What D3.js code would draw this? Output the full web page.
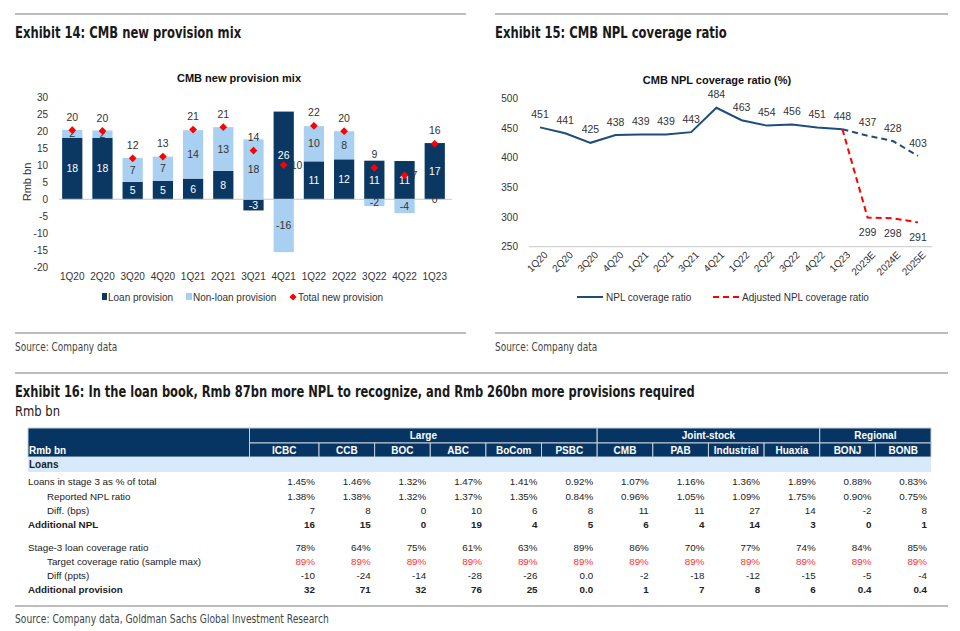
<!DOCTYPE html>
<html><head><meta charset="utf-8">
<script src="https://cdn.jsdelivr.net/npm/d3@7"></script>
<style>
body{margin:0;background:#fff;}
svg text{font-family:"Liberation Sans",Arial,sans-serif;}
svg text.cond{font-family:"Liberation Sans Narrow","Arial Narrow","DejaVu Sans Condensed",sans-serif;}
</style></head><body>
<svg id="c" width="960" height="631"></svg>
<script>
// ---------- DATA ----------
const quarters = ["1Q20","2Q20","3Q20","4Q20","1Q21","2Q21","3Q21","4Q21","1Q22","2Q22","3Q22","4Q22","1Q23"];
const loanProvision = [18.2,18.1,5.1,5.4,6.1,8.4,-3.3,25.9,11.2,11.8,11.4,11.3,16.6];
const nonLoanProvision = [2.3,2.2,7.1,7.2,14.3,12.9,17.7,-15.6,10.4,8.3,-2.0,-4.1,-0.2];
const totalProvision = [20.4,20.2,12.1,12.6,20.6,21.3,14.4,10.1,21.7,20.1,9.3,7.1,16.4];
const provTicks = [-20,-15,-10,-5,0,5,10,15,20,25,30];

const periods = ["1Q20","2Q20","3Q20","4Q20","1Q21","2Q21","3Q21","4Q21","1Q22","2Q22","3Q22","4Q22","1Q23","2023E","2024E","2025E"];
const nplCoverage = [451,441,425,438,439,439,443,484,463,454,456,451,448,437,428,403];
const adjustedCoverage = [null,null,null,null,null,null,null,null,null,null,null,null,448,299,298,291];
const lastActual = "1Q23";
const coverageTicks = [250,300,350,400,450,500];

const banks = ["ICBC","CCB","BOC","ABC","BoCom","PSBC","CMB","PAB","Industrial","Huaxia","BONJ","BONB"];
const bankGroups = [["Large","ICBC","PSBC"],["Joint-stock","CMB","Huaxia"],["Regional","BONJ","BONB"]];
const stage3Share = ["1.45%","1.46%","1.32%","1.47%","1.41%","0.92%","1.07%","1.16%","1.36%","1.89%","0.88%","0.83%"];
const reportedNpl = ["1.38%","1.38%","1.32%","1.37%","1.35%","0.84%","0.96%","1.05%","1.09%","1.75%","0.90%","0.75%"];
const diffBps = ["7","8","0","10","6","8","11","11","27","14","-2","8"];
const additionalNpl = ["16","15","0","19","4","5","6","4","14","3","0","1"];
const stage3Coverage = ["78%","64%","75%","61%","63%","89%","86%","70%","77%","74%","84%","85%"];
const targetCoverage = ["89%","89%","89%","89%","89%","89%","89%","89%","89%","89%","89%","89%"];
const diffPpts = ["-10","-24","-14","-28","-26","0.0","-2","-18","-12","-15","-5","-4"];
const additionalProvision = ["32","71","32","76","25","0.0","1","7","8","6","0.4","0.4"];

// ---------- COLORS ----------
const NAVY = "#0b3862", LIGHT = "#a9d0f1", RED = "#ff0000", LINE = "#1f4d7a", HDR = "#063463";
const svg = d3.select("#c");

// ---------- page furniture ----------
const rule = (x1,x2,y)=>svg.append("line").attr("x1",x1).attr("x2",x2).attr("y1",y).attr("y2",y)
  .attr("stroke","#bdbdbd").attr("stroke-width",2);
rule(15,466,14); rule(495,948,14); rule(15,466,333); rule(495,948,333); rule(15,948,373); rule(15,948,606);
const heading = (x,y,t,w,s,sx)=>svg.append("text").attr("class","cond")
  .attr("transform",`translate(${x},${y}) scale(${sx},1)`)
  .attr("font-size",s).attr("font-weight",w).attr("fill","#1a1a1a").text(t);
heading(15,38,"Exhibit 14: CMB new provision mix","bold",15,0.86);
heading(495,38,"Exhibit 15: CMB NPL coverage ratio","bold",15,0.86);
heading(15,397,"Exhibit 16: In the loan book, Rmb 87bn more NPL to recognize, and Rmb 260bn more provisions required","bold",15,0.85);
heading(15,416,"Rmb bn","normal",14,0.92);
heading(15,351,"Source: Company data","normal",12,0.83).attr("fill","#444");
heading(495,351,"Source: Company data","normal",12,0.83).attr("fill","#444");
heading(15,623,"Source: Company data, Goldman Sachs Global Investment Research","normal",12,0.85).attr("fill","#444");

// ---------- LEFT CHART ----------
{
  const g = svg.append("g");
  const x = d3.scaleBand().domain(quarters).range([57,450]).paddingInner(0.33).paddingOuter(0.17);
  const y = d3.scaleLinear().domain([-20,30]).range([267,97.7]);
  g.append("text").attr("x",239).attr("y",82).attr("text-anchor","middle").attr("font-size",11)
    .attr("font-weight","bold").attr("fill","#111").text("CMB new provision mix");
  const ya = g.append("g").attr("transform","translate(52,0)")
    .call(d3.axisLeft(y).tickValues(provTicks).tickSize(0).tickPadding(4).tickFormat(String));
  ya.select(".domain").remove();
  ya.selectAll("text").attr("font-size",10).attr("fill","#333").style("font-family","Liberation Sans, Arial, sans-serif");
  g.append("text").attr("transform","translate(31,182) rotate(-90)").attr("text-anchor","middle")
    .attr("font-size",11).attr("fill","#333").text("Rmb bn");

  const rows = quarters.map((q,i)=>({q, loan:loanProvision[i], nonLoan:nonLoanProvision[i]}));
  const series = d3.stack().keys(["loan","nonLoan"]).offset(d3.stackOffsetDiverging)(rows);
  const colors = {loan:NAVY, nonLoan:LIGHT};
  series.forEach(s=>{
    g.append("g").selectAll("rect").data(s).join("rect")
      .attr("x",d=>x(d.data.q)).attr("width",x.bandwidth())
      .attr("y",d=>y(Math.max(d[0],d[1]))).attr("height",d=>Math.abs(y(d[0])-y(d[1])))
      .attr("fill",colors[s.key]);
  });
  g.append("line").attr("x1",59).attr("x2",452).attr("y1",y(0)).attr("y2",y(0)).attr("stroke","#c8c8c8").attr("stroke-width",1);
  series.forEach(s=>{
    g.append("g").selectAll("text").data(s).join("text")
      .attr("x",d=>x(d.data.q)+x.bandwidth()/2).attr("y",d=>y((d[0]+d[1])/2)).attr("dy","0.35em")
      .attr("text-anchor","middle").attr("font-size",10.5)
      .attr("fill",s.key==="loan"?"#fff":"#333")
      .text(d=>String(Math.round(d.data[s.key])));
  });
  const rightLabel = new Set(["4Q21","4Q22"]);
  quarters.forEach((q,i)=>{
    const cx = x(q)+x.bandwidth()/2, cy = y(totalProvision[i]);
    g.append("path").attr("d",d3.symbol(d3.symbolSquare,30)()).attr("fill",RED)
      .attr("transform",`translate(${cx},${cy}) rotate(45)`);
    const right = rightLabel.has(q);
    g.append("text").attr("x",right?cx+7:cx).attr("y",right?cy:cy-13).attr("dy","0.35em")
      .attr("text-anchor",right?"start":"middle").attr("font-size",10.5).attr("fill","#333")
      .text(String(Math.round(totalProvision[i])));
  });
  const xa = g.append("g").attr("transform","translate(0,273)")
    .call(d3.axisBottom(x).tickSize(0).tickPadding(0));
  xa.select(".domain").remove();
  xa.selectAll("text").attr("font-size",10).attr("fill","#333").style("font-family","Liberation Sans, Arial, sans-serif");
  // legend
  const lg = g.append("g").attr("font-size",10).attr("fill","#333");
  lg.append("rect").attr("x",102).attr("y",293).attr("width",5).attr("height",7).attr("fill",NAVY);
  lg.append("text").attr("x",108).attr("y",297).attr("dy","0.35em").text("Loan provision");
  lg.append("rect").attr("x",186).attr("y",293).attr("width",6).attr("height",7).attr("fill",LIGHT);
  lg.append("text").attr("x",193).attr("y",297).attr("dy","0.35em").text("Non-loan provision");
  lg.append("path").attr("d",d3.symbol(d3.symbolSquare,26)()).attr("fill",RED).attr("transform","translate(293,297) rotate(45)");
  lg.append("text").attr("x",298).attr("y",297).attr("dy","0.35em").text("Total new provision");
}

// ---------- RIGHT CHART ----------
{
  const g = svg.append("g");
  const x = d3.scalePoint().domain(periods).range([540,918]);
  const y = d3.scaleLinear().domain([250,500]).range([246.7,98.3]);
  g.append("text").attr("x",717).attr("y",84).attr("text-anchor","middle").attr("font-size",11)
    .attr("font-weight","bold").attr("fill","#111").text("CMB NPL coverage ratio (%)");
  const ya = g.append("g").attr("transform","translate(522,0)")
    .call(d3.axisLeft(y).tickValues(coverageTicks).tickSize(0).tickPadding(4).tickFormat(String));
  ya.select(".domain").remove();
  ya.selectAll("text").attr("font-size",10).attr("fill","#333").style("font-family","Liberation Sans, Arial, sans-serif");
  g.append("line").attr("x1",529).attr("x2",932).attr("y1",y(250)).attr("y2",y(250)).attr("stroke","#c8c8c8");
  const pts = periods.map((p,i)=>({p, v:nplCoverage[i], a:adjustedCoverage[i], i}));
  const cut = periods.indexOf(lastActual);
  const line = d3.line().x(d=>x(d.p)).y(d=>y(d.v));
  g.append("path").datum(pts.slice(0,cut+1)).attr("d",line).attr("fill","none").attr("stroke",LINE).attr("stroke-width",2);
  g.append("path").datum(pts.slice(cut)).attr("d",line).attr("fill","none").attr("stroke",LINE).attr("stroke-width",2).attr("stroke-dasharray","6,4");
  const aline = d3.line().defined(d=>d.a!=null).x(d=>x(d.p)).y(d=>y(d.a));
  g.append("path").datum(pts).attr("d",aline).attr("fill","none").attr("stroke",RED).attr("stroke-width",2).attr("stroke-dasharray","6,4");
  g.selectAll("text.v").data(pts).join("text").attr("class","v")
    .attr("x",d=>x(d.p)).attr("y",d=>y(d.v)-13).attr("dy","0.35em").attr("text-anchor","middle")
    .attr("font-size",10.5).attr("fill","#333").text(d=>d.v);
  g.selectAll("text.a").data(pts.filter(d=>d.a!=null && d.i>cut)).join("text").attr("class","a")
    .attr("x",d=>x(d.p)).attr("y",d=>y(d.a)+15).attr("dy","0.35em").attr("text-anchor","middle")
    .attr("font-size",10.5).attr("fill","#333").text(d=>d.a);
  g.selectAll("text.xl").data(periods).join("text").attr("class","xl")
    .attr("transform",d=>`translate(${x(d)+6},253) rotate(-45)`).attr("text-anchor","end")
    .attr("dy","0.35em").attr("font-size",10).attr("fill","#333").text(d=>d);
  const lg = g.append("g").attr("font-size",10).attr("fill","#333");
  lg.append("line").attr("x1",577).attr("x2",603).attr("y1",297).attr("y2",297).attr("stroke",LINE).attr("stroke-width",2);
  lg.append("text").attr("x",606).attr("y",297).attr("dy","0.35em").text("NPL coverage ratio");
  lg.append("line").attr("x1",713).attr("x2",740).attr("y1",297).attr("y2",297).attr("stroke",RED).attr("stroke-width",2).attr("stroke-dasharray","6,4");
  lg.append("text").attr("x",742).attr("y",297).attr("dy","0.35em").text("Adjusted NPL coverage ratio");
}

// ---------- TABLE ----------
{
  const g = svg.append("g");
  const band = d3.scaleBand().domain(banks.slice(1)).range([319,931]);
  const left = b=> b===banks[0] ? 249.5 : band(b);
  const right = b=> b===banks[0] ? 319 : band(b)+band.bandwidth();
  const stroke = "#c5cfd9";
  g.append("rect").attr("x",28).attr("y",428).attr("width",221.5).attr("height",29).attr("fill",HDR).attr("stroke",stroke);
  g.append("text").attr("x",29).attr("y",450).attr("dy","0.35em").attr("font-size",10).attr("font-weight","bold").attr("fill","#fff").text("Rmb bn");
  bankGroups.forEach(([name,a,b])=>{
    g.append("rect").attr("x",left(a)).attr("y",428).attr("width",right(b)-left(a)).attr("height",15).attr("fill",HDR).attr("stroke",stroke);
    g.append("text").attr("x",(left(a)+right(b))/2).attr("y",435.5).attr("dy","0.35em").attr("text-anchor","middle")
      .attr("font-size",10).attr("font-weight","bold").attr("fill","#fff").text(name);
  });
  banks.forEach(b=>{
    g.append("rect").attr("x",left(b)).attr("y",443).attr("width",right(b)-left(b)).attr("height",14).attr("fill",HDR).attr("stroke",stroke);
    g.append("text").attr("x",(left(b)+right(b))/2).attr("y",450).attr("dy","0.35em").attr("text-anchor","middle")
      .attr("font-size",10).attr("font-weight","bold").attr("fill","#fff").text(b);
  });
  g.append("rect").attr("x",28).attr("y",457.5).attr("width",903).attr("height",14.5).attr("fill","#d6eafb");
  g.append("text").attr("x",29).attr("y",464.5).attr("dy","0.35em").attr("font-size",10).attr("font-weight","bold").attr("fill","#222").text("Loans");
  const rows = [
    ["Loans in stage 3 as % of total", stage3Share, 0, 0, 0],
    ["Reported NPL ratio", reportedNpl, 1, 0, 0],
    ["Diff. (bps)", diffBps, 1, 0, 0],
    ["Additional NPL", additionalNpl, 0, 1, 0],
    ["Stage-3 loan coverage ratio", stage3Coverage, 0, 0, 0],
    ["Target coverage ratio (sample max)", targetCoverage, 1, 0, 1],
    ["Diff (ppts)", diffPpts, 1, 0, 0],
    ["Additional provision", additionalProvision, 0, 1, 0]
  ];
  rows.forEach(([label, vals, indent, bold, red], i)=>{
    const yy = i<4 ? 482+i*14.3 : 548+(i-4)*14;
    g.append("text").attr("x",indent?47:28).attr("y",yy).attr("dy","0.35em").attr("font-size",9.8)
      .attr("font-weight",bold?"bold":"normal").attr("fill","#222").text(label);
    banks.forEach((b,j)=>{
      g.append("text").attr("x",right(b)-4).attr("y",yy).attr("dy","0.35em").attr("text-anchor","end")
        .attr("font-size",9.8).attr("font-weight",bold?"bold":"normal").attr("fill",red?"#ff3030":"#222").text(vals[j]);
    });
  });
}
</script></body></html>
